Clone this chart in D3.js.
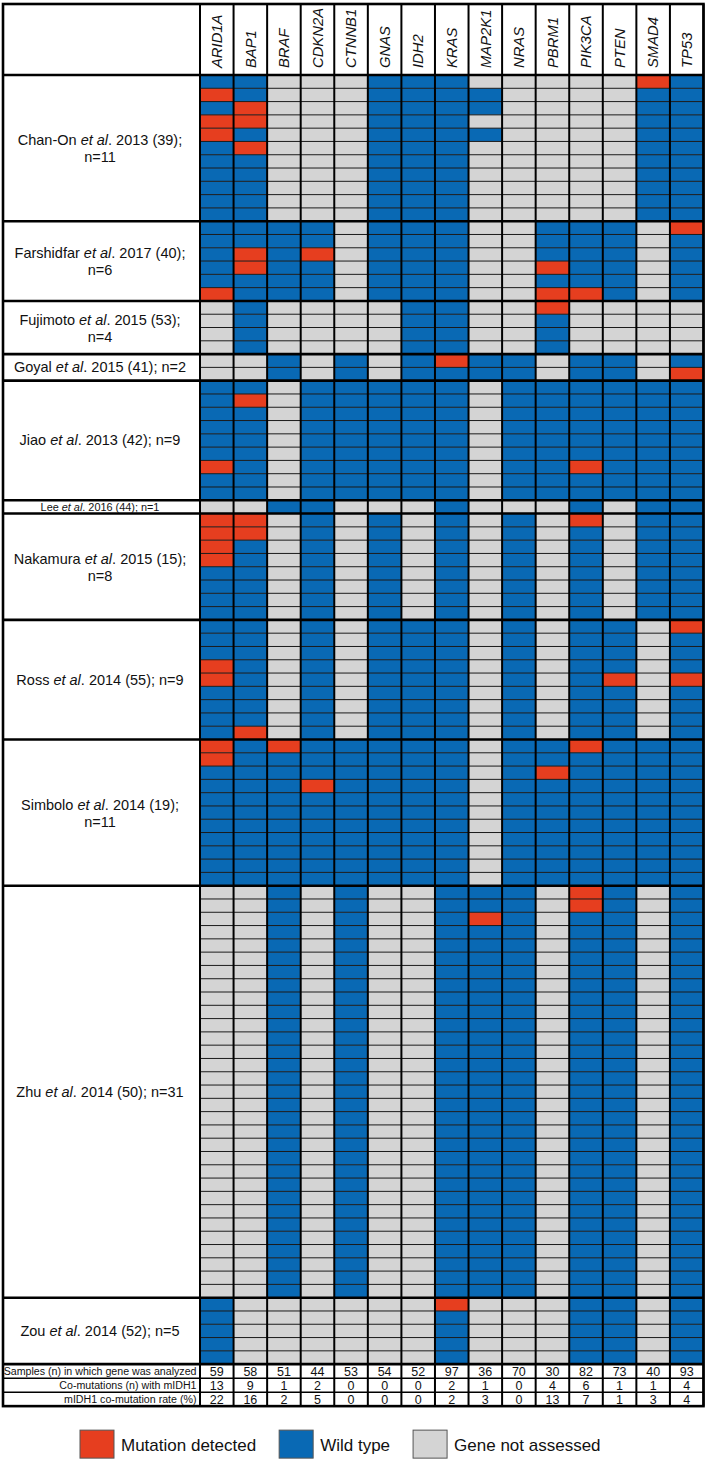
<!DOCTYPE html>
<html>
<head>
<meta charset="utf-8">
<script src="https://cdn.jsdelivr.net/npm/d3@7"></script>
<style>
	body { margin: 0; background: #ffffff; }
	svg { display: block; font-family: 'Liberation Sans', Arial, Helvetica, sans-serif; }
</style>
</head>
<body>
<div id="chart_div"></div>
<script>
//gene columns and studies (rows, M = mutation, W = wild type, N = not assessed)
var genes = ['ARID1A', 'BAP1', 'BRAF', 'CDKN2A', 'CTNNB1', 'GNAS', 'IDH2', 'KRAS', 'MAP2K1', 'NRAS', 'PBRM1', 'PIK3CA', 'PTEN', 'SMAD4', 'TP53'];
var study_authors = ['Chan-On', 'Farshidfar', 'Fujimoto', 'Goyal', 'Jiao', 'Lee', 'Nakamura', 'Ross', 'Simbolo', 'Zhu', 'Zou'];
var study_years = ['2013', '2017', '2015', '2015', '2013', '2016', '2015', '2014', '2014', '2014', '2014'];
var study_refs = ['39', '40', '53', '41', '42', '44', '15', '55', '19', '50', '52'];
var study_n = [11, 6, 4, 2, 9, 1, 8, 9, 11, 31, 5];

var sample_status = [
	[
		'WWNNNWWWNNNNNMW',
		'MWNNNWWWWNNNNWW',
		'WMNNNWWWWNNNNWW',
		'MMNNNWWWNNNNNWW',
		'MWNNNWWWWNNNNWW',
		'WMNNNWWWNNNNNWW',
		'WWNNNWWWNNNNNWW',
		'WWNNNWWWNNNNNWW',
		'WWNNNWWWNNNNNWW',
		'WWNNNWWWNNNNNWW',
		'WWNNNWWWNNNNNWW'
	],
	[
		'WWWWNWWWNNWWWNM',
		'WWWWNWWWNNWWWNW',
		'WMWMNWWWNNWWWNW',
		'WMWWNWWWNNMWWNW',
		'WWWWNWWWNNWWWNW',
		'MWWWNWWWNNMMWNW'
	],
	[
		'NWNNNNWWNNMNNNN',
		'NWNNNNWWNNWNNNN',
		'NWNNNNWWNNWNNNN',
		'NWNNNNWWNNWNNNN'
	],
	[
		'NNWNWNWMWWNWWNW',
		'NNWNWNWWWWNWWNM'
	],
	[
		'WWNWWWWWNWWWWWW',
		'WMNWWWWWNWWWWWW',
		'WWNWWWWWNWWWWWW',
		'WWNWWWWWNWWWWWW',
		'WWNWWWWWNWWWWWW',
		'WWNWWWWWNWWWWWW',
		'MWNWWWWWNWWMWWW',
		'WWNWWWWWNWWWWWW',
		'WWNWWWWWNWWWWWW'
	],
	[
		'NNWWNNNWNNNWNWW'
	],
	[
		'MMNWNWNWNWNMNWW',
		'MMNWNWNWNWNWNWW',
		'MWNWNWNWNWNWNWW',
		'MWNWNWNWNWNWNWW',
		'WWNWNWNWNWNWNWW',
		'WWNWNWNWNWNWNWW',
		'WWNWNWNWNWNWNWW',
		'WWNWNWNWNWNWNWW'
	],
	[
		'WWNWNWWWNWNWWNM',
		'WWNWNWWWNWNWWNW',
		'WWNWNWWWNWNWWNW',
		'MWNWNWWWNWNWWNW',
		'MWNWNWWWNWNWMNM',
		'WWNWNWWWNWNWWNW',
		'WWNWNWWWNWNWWNW',
		'WWNWNWWWNWNWWNW',
		'WMNWNWWWNWNWWNW'
	],
	[
		'MWMWWWWWNWWMWWW',
		'MWWWWWWWNWWWWWW',
		'WWWWWWWWNWMWWWW',
		'WWWMWWWWNWWWWWW',
		'WWWWWWWWNWWWWWW',
		'WWWWWWWWNWWWWWW',
		'WWWWWWWWNWWWWWW',
		'WWWWWWWWNWWWWWW',
		'WWWWWWWWNWWWWWW',
		'WWWWWWWWNWWWWWW',
		'WWWWWWWWNWWWWWW'
	],
	[
		'NNWNWNNWWWNMWNW',
		'NNWNWNNWWWNMWNW',
		'NNWNWNNWMWNWWNW',
		'NNWNWNNWWWNWWNW',
		'NNWNWNNWWWNWWNW',
		'NNWNWNNWWWNWWNW',
		'NNWNWNNWWWNWWNW',
		'NNWNWNNWWWNWWNW',
		'NNWNWNNWWWNWWNW',
		'NNWNWNNWWWNWWNW',
		'NNWNWNNWWWNWWNW',
		'NNWNWNNWWWNWWNW',
		'NNWNWNNWWWNWWNW',
		'NNWNWNNWWWNWWNW',
		'NNWNWNNWWWNWWNW',
		'NNWNWNNWWWNWWNW',
		'NNWNWNNWWWNWWNW',
		'NNWNWNNWWWNWWNW',
		'NNWNWNNWWWNWWNW',
		'NNWNWNNWWWNWWNW',
		'NNWNWNNWWWNWWNW',
		'NNWNWNNWWWNWWNW',
		'NNWNWNNWWWNWWNW',
		'NNWNWNNWWWNWWNW',
		'NNWNWNNWWWNWWNW',
		'NNWNWNNWWWNWWNW',
		'NNWNWNNWWWNWWNW',
		'NNWNWNNWWWNWWNW',
		'NNWNWNNWWWNWWNW',
		'NNWNWNNWWWNWWNW',
		'NNWNWNNWWWNWWNW'
	],
	[
		'WNNNNNNMNNNWWNW',
		'WNNNNNNWNNNWWNW',
		'WNNNNNNWNNNWWNW',
		'WNNNNNNWNNNWWNW',
		'WNNNNNNWNNNWWNW'
	]
];

var summary_labels = ['Samples (n) in which gene was analyzed', 'Co-mutations (n) with mIDH1', 'mIDH1 co-mutation rate (%)'];
var samples_analyzed = [59, 58, 51, 44, 53, 54, 52, 97, 36, 70, 30, 82, 73, 40, 93];
var co_mutations = [13, 9, 1, 2, 0, 0, 0, 2, 1, 0, 4, 6, 1, 1, 4];
var co_mutation_rate = [22, 16, 2, 5, 0, 0, 0, 2, 3, 0, 13, 7, 1, 3, 4];

var status_codes = ['M', 'W', 'N'];
var status_labels = ['Mutation detected', 'Wild type', 'Gene not assessed'];

var chart = {
	width: 709,
	height: 1461,
	table_left: 3,
	label_right: 200,
	table_right: 703.5,
	table_top: 4,
	header_bottom: 75,
	row_height: 13.29,
	summary_height: 14,
	colours: ['#e63e1f', '#0969b4', '#d4d4d4'],
	narrow_font: "'Liberation Sans Narrow', 'Arial Narrow', 'Liberation Sans', Arial, sans-serif",
};

function draw_chart() {
	var svg = d3
		.select('#chart_div')
		.append('svg')
		.attr('width', chart.width)
		.attr('height', chart.height);

	//flatten the study rows
	var cells = [];
	var blocks = [];
	var row_index = 0;
	sample_status.forEach(function (rows, s) {
		blocks.push({ study: s, start: row_index, end: row_index + rows.length });
		rows.forEach(function (r) {
			genes.forEach(function (g, gi) {
				cells.push({ row: row_index, gene: g, status: r[gi] });
			});
			row_index += 1;
		});
	});
	var total_rows = row_index;

	var x = d3
		.scaleBand()
		.domain(genes)
		.range([chart.label_right, chart.table_right]);
	var y = d3
		.scaleLinear()
		.domain([0, total_rows])
		.range([chart.header_bottom, chart.header_bottom + total_rows * chart.row_height]);
	var grid_bottom = y(total_rows);
	var summary_y = d3
		.scaleLinear()
		.domain([0, summary_labels.length])
		.range([grid_bottom, grid_bottom + summary_labels.length * chart.summary_height]);
	var table_bottom = summary_y(summary_labels.length);
	var colour = d3.scaleOrdinal().domain(status_codes).range(chart.colours);

	//cells
	svg.append('g')
		.selectAll('rect')
		.data(cells)
		.enter()
		.append('rect')
		.attr('x', (d) => x(d.gene))
		.attr('y', (d) => y(d.row))
		.attr('width', x.bandwidth())
		.attr('height', y(1) - y(0))
		.attr('fill', (d) => colour(d.status));

	//thin row lines inside each study
	var block_edges = blocks.map((d) => d.start);
	var inner_rows = d3.range(1, total_rows).filter((d) => block_edges.indexOf(d) === -1);
	svg.append('g')
		.selectAll('line')
		.data(inner_rows)
		.enter()
		.append('line')
		.attr('x1', chart.label_right)
		.attr('x2', chart.table_right)
		.attr('y1', (d) => y(d))
		.attr('y2', (d) => y(d))
		.attr('stroke', '#1a1a1a')
		.attr('stroke-width', 1);

	//summary row lines
	svg.append('g')
		.selectAll('line')
		.data(d3.range(1, summary_labels.length))
		.enter()
		.append('line')
		.attr('x1', chart.table_left)
		.attr('x2', chart.table_right)
		.attr('y1', (d) => summary_y(d))
		.attr('y2', (d) => summary_y(d))
		.attr('stroke', '#000')
		.attr('stroke-width', 1.5);

	//column lines
	var col_edges = genes.map((g) => x(g)).concat([chart.table_right]);
	svg.append('g')
		.selectAll('line')
		.data(col_edges)
		.enter()
		.append('line')
		.attr('x1', (d) => d)
		.attr('x2', (d) => d)
		.attr('y1', chart.table_top)
		.attr('y2', table_bottom)
		.attr('stroke', '#000')
		.attr('stroke-width', 2);

	//study separators, header and summary borders
	var thick_rows = [chart.header_bottom]
		.concat(blocks.slice(1).map((d) => y(d.start)))
		.concat([grid_bottom]);
	svg.append('g')
		.selectAll('line')
		.data(thick_rows)
		.enter()
		.append('line')
		.attr('x1', chart.table_left)
		.attr('x2', chart.table_right)
		.attr('y1', (d) => d)
		.attr('y2', (d) => d)
		.attr('stroke', '#000')
		.attr('stroke-width', 2.6);

	svg.append('rect')
		.attr('x', chart.table_left)
		.attr('y', chart.table_top)
		.attr('width', chart.table_right - chart.table_left)
		.attr('height', table_bottom - chart.table_top)
		.attr('fill', 'none')
		.attr('stroke', '#000')
		.attr('stroke-width', 2.6);

	//gene headers
	svg.append('g')
		.selectAll('text')
		.data(genes)
		.enter()
		.append('text')
		.attr('transform', (d) => 'translate(' + (x(d) + x.bandwidth() / 2 + 5.3) + ',' + (chart.header_bottom - 7) + ') rotate(-90)')
		.attr('font-size', 14.8)
		.attr('font-style', 'italic')
		.attr('fill', '#111')
		.text((d) => d);

	draw_study_labels(svg, blocks, y);
	draw_summary(svg, x, summary_y);
	draw_legend(svg, table_bottom);
}

//shrink a text's font until it fits a target width (no textLength squeeze)
function fit_font(text_el, start_size, target_width) {
	var natural = text_el.node().getComputedTextLength();
	if (natural > target_width) {
		text_el.attr('font-size', (start_size * target_width) / natural);
	}
}

function add_label_line(text_el, s, with_n) {
	text_el.append('tspan').text(study_authors[s] + ' ');
	text_el.append('tspan').attr('font-style', 'italic').text('et al');
	text_el.append('tspan').text('. ' + study_years[s] + ' (' + study_refs[s] + ');' + (with_n ? ' n=' + study_n[s] : ''));
}

function draw_study_labels(svg, blocks, y) {
	var label_x = 100;
	var label_g = svg.append('g').attr('fill', '#111').attr('text-anchor', 'middle');
	blocks.forEach(function (b) {
		var top = y(b.start);
		var bottom = y(b.end);
		var centre = (top + bottom) / 2;
		if (bottom - top < 20) {
			//tiny block (n=1) gets a small single line
			var small = label_g
				.append('text')
				.attr('x', label_x)
				.attr('y', centre + 3.8)
				.attr('font-size', 11);
			add_label_line(small, b.study, true);
			fit_font(small, 11, 119);
			return;
		}
		var one_line = label_g
			.append('text')
			.attr('x', label_x)
			.attr('y', centre + 5)
			.attr('font-size', 14.5);
		add_label_line(one_line, b.study, true);
		if (one_line.node().getComputedTextLength() > 182) {
			one_line.remove();
			var first = label_g
				.append('text')
				.attr('x', label_x)
				.attr('y', centre - 3)
				.attr('font-size', 14.5);
			add_label_line(first, b.study, false);
			label_g
				.append('text')
				.attr('x', label_x)
				.attr('y', centre + 14)
				.attr('font-size', 14.5)
				.text('n=' + study_n[b.study]);
		}
	});
}

function draw_summary(svg, x, summary_y) {
	var summary_values = [samples_analyzed, co_mutations, co_mutation_rate];
	var summary_g = svg.append('g').attr('fill', '#111');
	var label_size = 13;
	summary_labels.forEach(function (lab, i) {
		var mid = (summary_y(i) + summary_y(i + 1)) / 2;
		summary_g
			.append('text')
			.attr('class', 'summary_label')
			.attr('x', 196.5)
			.attr('y', mid + 4.2)
			.attr('text-anchor', 'end')
			.attr('font-family', chart.narrow_font)
			.attr('font-size', label_size)
			.text(lab);

		summary_g
			.append('g')
			.selectAll('text')
			.data(summary_values[i])
			.enter()
			.append('text')
			.attr('x', (d, gi) => x(genes[gi]) + x.bandwidth() / 2)
			.attr('y', mid + 4.6)
			.attr('text-anchor', 'middle')
			.attr('font-size', 12.5)
			.text((d) => d);
	});
	//the long label sets the size for all three so they match
	var first_label = summary_g.select('.summary_label');
	var natural = first_label.node().getComputedTextLength();
	var new_size = Math.min(label_size, (label_size * 193) / natural);
	summary_g.selectAll('.summary_label').attr('font-size', new_size);
}

function draw_legend(svg, table_bottom) {
	var colour = d3.scaleOrdinal().domain(status_codes).range(chart.colours);
	var legend_g = svg.append('g');
	var box_y = table_bottom + 24;
	var pos_x = 80;
	status_codes.forEach(function (code, i) {
		legend_g
			.append('rect')
			.attr('x', pos_x)
			.attr('y', box_y)
			.attr('width', 34)
			.attr('height', 28)
			.attr('fill', colour(code))
			.attr('stroke', '#555')
			.attr('stroke-width', 1);
		var t = legend_g
			.append('text')
			.attr('x', pos_x + 41)
			.attr('y', box_y + 20.5)
			.attr('font-size', 17)
			.attr('fill', '#111')
			.text(status_labels[i]);
		pos_x = pos_x + 41 + t.node().getComputedTextLength() + 23;
	});
}

draw_chart();
</script>
</body>
</html>
